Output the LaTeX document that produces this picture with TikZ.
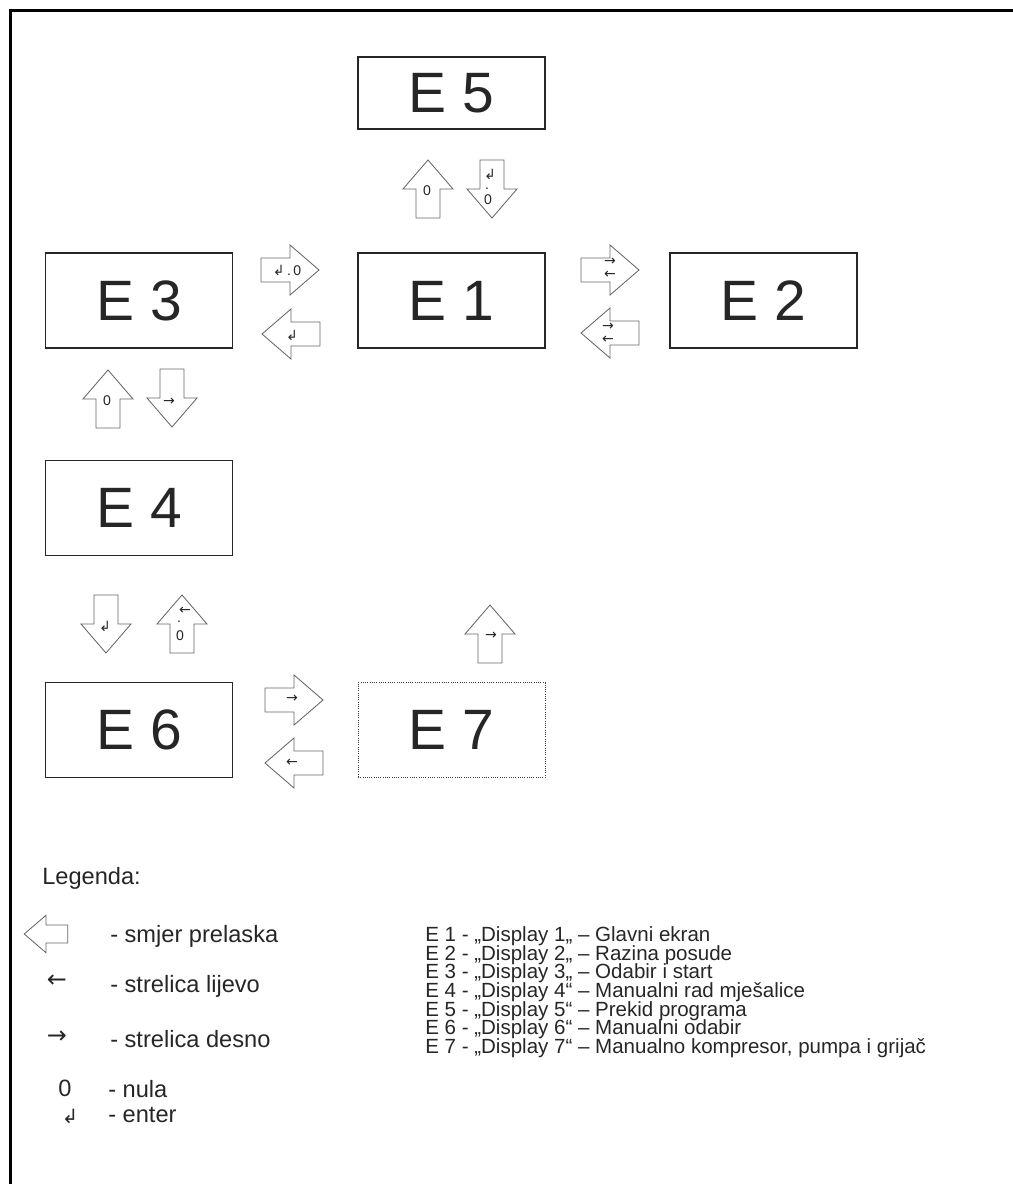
\documentclass[tikz,border=0pt]{standalone}
\usepackage{fontspec}
\setmainfont{Liberation Sans}
\newfontfamily\symfont{DejaVu Sans}
\newcommand{\keyenter}{{\symfont ↲}}
\newcommand{\keyright}{{\symfont →}}
\newcommand{\keyleft}{{\symfont ←}}

\begin{document}
\begin{tikzpicture}
  [x=0.25mm,y=-0.25mm,every node/.style={inner sep=0pt,text=black!85},
   barrow/.pic={\draw[arrowline] (-29,-12) -- (0,-12) -- (0,-25) -- (29,0) -- (0,25) -- (0,12) -- (-29,12) -- cycle;}]
  \tikzstyle{dispbox} = [draw=black!85,line width=0.9pt,minimum width=46.75mm,minimum height=23.75mm,font=\fontsize{40.5}{48}\selectfont]
  \tikzstyle{arrowline} = [draw=black!60,line width=0.6pt]
  \tikzstyle{keylbl} = [font=\fontsize{10}{10}\selectfont]
  \tikzstyle{legtext} = [anchor=base west,font=\fontsize{16.8}{20}\selectfont]
  \tikzstyle{dsptext} = [anchor=base west,font=\fontsize{14.6}{17}\selectfont]
  \useasboundingbox (0,0) rectangle (1013,1184);

  % frame
  \draw[line width=2.2pt] (10.7,1184) -- (10.7,10.7) -- (1013,10.7);

  % displays
  \node[dispbox,minimum height=18mm] (e5) at (451.5,93) {E 5};
  \node[dispbox] (e1) at (451.5,300.5) {E 1};
  \node[dispbox] (e2) at (763.5,300.5) {E 2};
  \node[dispbox] (e3) at (139,300.5) {E 3};
  \node[dispbox] (e4) at (139,508) {E 4};
  \node[dispbox] (e6) at (139,730) {E 6};
  \node[dispbox,draw=black!75,line width=0.6pt,densely dotted] (e7) at (451.5,730) {E 7};

  % transitions
  \foreach \x/\y/\r in {428/189/90,492/189/-90,290/270/0,291/334/180,610/270/0,610/333/180,
                        108/399/90,172/398/-90,106/624/-90,182/624/90,490/634/90,294/700/0,294/763/180}
    \pic[rotate=\r] at (\x,\y) {barrow};

  % keys
  \foreach \nm/\x/\y/\t in {k1/427/191/0,k2/490/174/\keyenter,k3/487/189/.,k4/488/200/0,
                            k5/287/270/{\keyenter\,.\,0},k6/292/335/\keyenter,
                            k7/610/262/\keyright,k8/610/275/\keyleft,k9/608/327/\keyright,k10/608/340/\keyleft,
                            k11/107/401/0,k12/169/402/\keyright,k13/105/626/\keyenter,
                            k14/185/611/\keyleft,k15/179/622/.,k16/180/636/0,
                            k17/491/636/\keyright,k18/292/699/\keyright,k19/292/763/\keyleft}
    \node[keylbl] (\nm) at (\x,\y) {\t};

  % legend
  \node[legtext] (leg) at (42,884) {Legenda:};
  \pic[rotate=180,scale=0.75] at (46,934) {barrow};
  \node[font=\fontsize{17}{18}\symfont] (s2) at (57,981) {←};
  \node[font=\fontsize{17}{18}\symfont] (s3) at (57,1037) {→};
  \node[font=\fontsize{16.8}{20}\selectfont] (s4) at (65,1088) {0};
  \node[font=\fontsize{14}{16}\symfont] (s5) at (70,1116) {↲};
  \node[legtext] (l1) at (110,942) {- smjer prelaska};
  \node[legtext] (l2) at (110,992) {- strelica lijevo};
  \node[legtext] (l3) at (110,1047) {- strelica desno};
  \node[legtext] (l4) at (108,1097) {- nula};
  \node[legtext] (l5) at (108,1122) {- enter};

  \foreach \i/\t in {1/{E 1 - „Display 1„ – Glavni ekran},2/{E 2 - „Display 2„ – Razina posude},
                     3/{E 3 - „Display 3„ – Odabir i start},4/{E 4 - „Display 4“ – Manualni rad mješalice},
                     5/{E 5 - „Display 5“ – Prekid programa},6/{E 6 - „Display 6“ – Manualni odabir},
                     7/{E 7 - „Display 7“ – Manualno kompresor, pumpa i grijač}}
    \node[dsptext] (d\i) at (425,{922.6+\i*18.7}) {\t};

\end{tikzpicture}
\end{document}
